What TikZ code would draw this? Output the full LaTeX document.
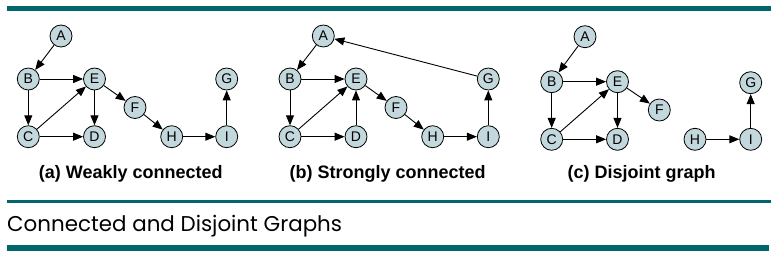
\documentclass[tikz,border=0pt]{standalone}
\usepackage{fontspec}
\setmainfont{Liberation Sans}
\newfontfamily\capfont{Poppins}
\usetikzlibrary{arrows.meta}
\definecolor{teal}{RGB}{0,102,107}
\definecolor{nodefill}{RGB}{194,216,220}
\tikzset{
  vert/.style={circle,draw=black,line width=0.8pt,fill=nodefill,minimum size=22pt,inner sep=0pt,font=\fontsize{14}{14}\selectfont},
  edge/.style={line width=0.9pt,-{Triangle[length=10pt,width=8pt]}},
  sublabel/.style={font=\bfseries\fontsize{18}{18}\selectfont,anchor=base},
  bar/.style={fill=teal,draw=none}
}
\begin{document}
\begin{tikzpicture}[x=1pt,y=-1pt]
\useasboundingbox (0,0) rectangle (780,257);
\fill[teal] (7,6) rectangle (771,11);
\fill[teal] (7,200) rectangle (771,203);
\fill[teal] (7,245) rectangle (769,251);
\node[anchor=base west,inner sep=0pt,font=\capfont\fontsize{21.4}{21.4}\selectfont] (title) at (7,231) {Connected and Disjoint Graphs};
% (a)
\begin{scope}
\node[vert] (aA) at (61,36) {A};
\node[vert] (aB) at (28.3,79) {B};
\node[vert] (aE) at (94.5,79) {E};
\node[vert] (aF) at (135,107.5) {F};
\node[vert] (aC) at (28.3,136.7) {C};
\node[vert] (aD) at (94.5,136.7) {D};
\node[vert] (aH) at (171.7,136.7) {H};
\node[vert] (aI) at (226.7,136.7) {I};
\node[vert] (aG) at (226.7,79) {G};
\draw[edge] (aA) -- (aB);
\draw[edge] (aB) -- (aE);
\draw[edge] (aB) -- (aC);
\draw[edge] (aC) -- (aE);
\draw[edge] (aC) -- (aD);
\draw[edge] (aE) -- (aD);
\draw[edge] (aE) -- (aF);
\draw[edge] (aF) -- (aH);
\draw[edge] (aH) -- (aI);
\draw[edge] (aI) -- (aG);
\node[sublabel] (la) at (130.8,178.3) {(a) Weakly connected};
\end{scope}
% (b)
\begin{scope}
\node[vert] (bA) at (323.3,36) {A};
\node[vert] (bB) at (290,79) {B};
\node[vert] (bE) at (356,79) {E};
\node[vert] (bF) at (396,107.5) {F};
\node[vert] (bC) at (290,136.7) {C};
\node[vert] (bD) at (356,136.7) {D};
\node[vert] (bH) at (432.7,136.7) {H};
\node[vert] (bI) at (488.3,136.7) {I};
\node[vert] (bG) at (488.3,79) {G};
\draw[edge] (bA) -- (bB);
\draw[edge] (bB) -- (bE);
\draw[edge] (bB) -- (bC);
\draw[edge] (bC) -- (bE);
\draw[edge] (bC) -- (bD);
\draw[edge] (bD) -- (bE);
\draw[edge] (bE) -- (bF);
\draw[edge] (bF) -- (bH);
\draw[edge] (bH) -- (bI);
\draw[edge] (bI) -- (bG);
\draw[edge] (bG) -- (bA);
\node[sublabel] (lb) at (387.7,178.3) {(b) Strongly connected};
\end{scope}
% (c)
\begin{scope}
\node[vert] (cA) at (585,36.7) {A};
\node[vert] (cB) at (551.7,81.7) {B};
\node[vert] (cE) at (617.5,81.7) {E};
\node[vert] (cF) at (659.3,110) {F};
\node[vert] (cC) at (551.7,139.3) {C};
\node[vert] (cD) at (617.5,139.3) {D};
\node[vert] (cH) at (695,139.3) {H};
\node[vert] (cI) at (750.7,139.3) {I};
\node[vert] (cG) at (750.7,82.7) {G};
\draw[edge] (cA) -- (cB);
\draw[edge] (cB) -- (cE);
\draw[edge] (cB) -- (cC);
\draw[edge] (cC) -- (cE);
\draw[edge] (cC) -- (cD);
\draw[edge] (cE) -- (cD);
\draw[edge] (cE) -- (cF);
\draw[edge] (cH) -- (cI);
\draw[edge] (cI) -- (cG);
\node[sublabel] (lc) at (641.7,178.3) {(c) Disjoint graph};
\end{scope}
\end{tikzpicture}
\end{document}
